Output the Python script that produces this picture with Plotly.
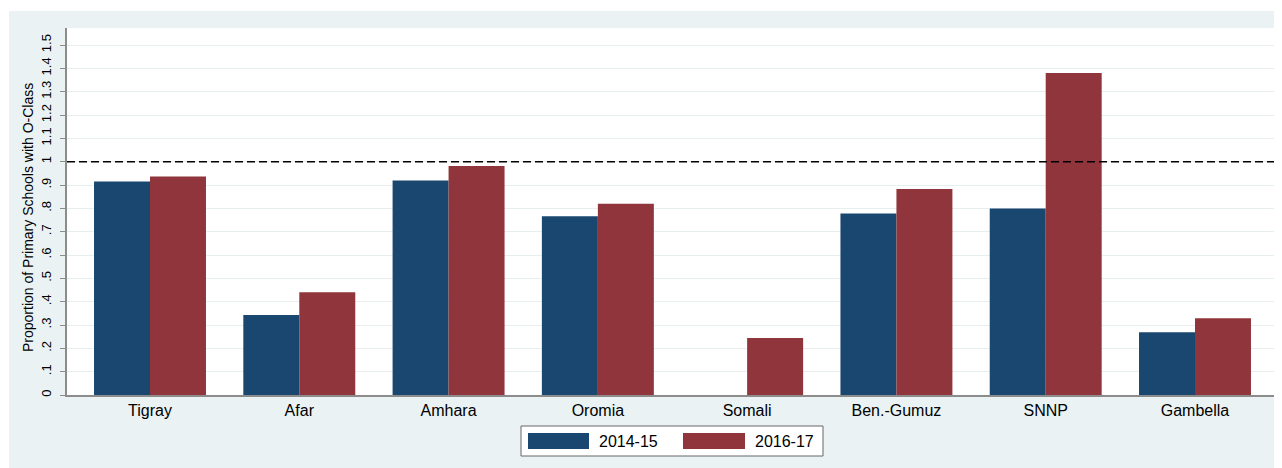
import plotly.graph_objects as go

regions = ["Tigray", "Afar", "Amhara", "Oromia", "Somali", "Ben.-Gumuz", "SNNP", "Gambella"]
v2014 = [0.915, 0.343, 0.919, 0.766, 0.0, 0.778, 0.799, 0.269]
v2016 = [0.937, 0.440, 0.981, 0.820, 0.244, 0.883, 1.380, 0.329]
series_names = ["2014-15", "2016-17"]
tick_vals = [i / 10 for i in range(16)]
tick_text = ["0", ".1", ".2", ".3", ".4", ".5", ".6", ".7", ".8", ".9", "1", "1.1", "1.2", "1.3", "1.4", "1.5"]
y_title = "Proportion of Primary Schools with O-Class"

BLUE = "#1a476f"
RED = "#90353b"
BG = "#eaf2f3"
FONT = "Arial, Liberation Sans, sans-serif"

fig = go.Figure()
fig.add_trace(go.Bar(x=regions, y=v2014, name=series_names[0], marker=dict(color=BLUE, line=dict(width=0))))
fig.add_trace(go.Bar(x=regions, y=v2016, name=series_names[1], marker=dict(color=RED, line=dict(width=0))))

# page body margin offsets the figure by 8px
OFF = 8
W, H = 1282 - OFF, 468 - OFF
L, R, T, B = 67 - OFF, 4, 28 - OFF, 73
pw, ph = W - L - R, H - T - B


def px(xs):
    """screen x -> paper x"""
    return (xs - OFF - L) / pw


def py(ys):
    """screen y -> paper y"""
    return (H - B - (ys - OFF)) / ph


shapes = [
    # reference line at 1
    dict(type="line", xref="paper", yref="y", x0=0, x1=1, y0=1, y1=1,
         line=dict(color="black", width=1.5, dash="8px,4px")),
    # thin white strip on top and left
    dict(type="rect", xref="paper", yref="paper", x0=px(OFF), x1=px(OFF + W),
         y0=py(11), y1=py(OFF), fillcolor="white", line=dict(width=0), layer="below"),
    dict(type="rect", xref="paper", yref="paper", x0=px(OFF), x1=px(9),
         y0=py(OFF + H), y1=py(OFF), fillcolor="white", line=dict(width=0), layer="below"),
    # legend box
    dict(type="rect", xref="paper", yref="paper", x0=px(521), x1=px(823),
         y0=py(456), y1=py(426), fillcolor="white", line=dict(color="#666666", width=1)),
    dict(type="rect", xref="paper", yref="paper", x0=px(528), x1=px(589),
         y0=py(449), y1=py(433), fillcolor=BLUE, line=dict(width=0)),
    dict(type="rect", xref="paper", yref="paper", x0=px(683), x1=px(745),
         y0=py(449), y1=py(433), fillcolor=RED, line=dict(width=0)),
]

annotations = [
    dict(text=series_names[0], xref="paper", yref="paper", x=px(597), y=py(441),
         xanchor="left", yanchor="middle", showarrow=False, font=dict(size=16, family=FONT)),
    dict(text=series_names[1], xref="paper", yref="paper", x=px(753), y=py(441),
         xanchor="left", yanchor="middle", showarrow=False, font=dict(size=16, family=FONT)),
    dict(text=y_title, xref="paper", yref="paper", x=px(28), y=py(218), textangle=-90,
         xanchor="center", yanchor="middle", showarrow=False, font=dict(size=14, family=FONT)),
]

fig.update_layout(
    width=W, height=H,
    margin=dict(l=L, r=R, t=T, b=B, autoexpand=False),
    paper_bgcolor=BG,
    plot_bgcolor="white",
    barmode="group",
    bargap=0.25,
    bargroupgap=0,
    font=dict(family=FONT, color="black"),
    shapes=shapes,
    annotations=annotations,
    showlegend=False,
    xaxis=dict(
        type="category",
        range=[-0.556, 7.556],
        automargin=False,
        showgrid=False, zeroline=False,
        showline=True, linecolor="#8c8c8c", linewidth=1.5,
        ticks="", tickfont=dict(size=16),
    ),
    yaxis=dict(
        range=[0, 1.573],
        automargin=False,
        tickvals=tick_vals, ticktext=tick_text,
        tickangle=-90,
        tickfont=dict(size=13),
        ticks="outside", ticklen=5, tickcolor="#8c8c8c", tickwidth=1,
        ticklabelstandoff=4,
        showgrid=True, gridcolor="#e6eeee", gridwidth=1,
        zeroline=False,
        showline=True, linecolor="#8c8c8c", linewidth=1.5,
    ),
)

fig.write_html("out.html")
